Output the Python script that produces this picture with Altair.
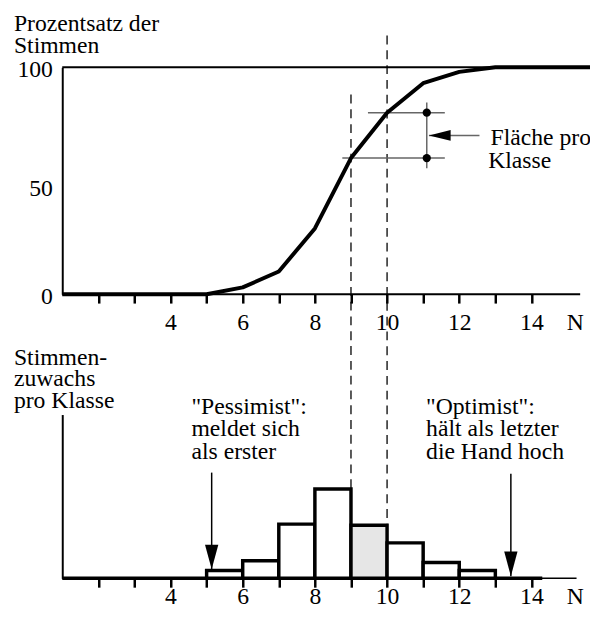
import altair as alt
import pandas as pd

FONT = "Liberation Serif"
FS = 24

# ---------------- data ----------------
# top panel: cumulative percentage of votes
cum_n = [1, 2, 3, 4, 5, 6, 7, 8, 9, 10, 11, 12, 13, 14, 15, 15.65]
cum_pct = [0, 0, 0, 0, 0, 3, 10, 29, 60, 80, 93, 98, 100, 100, 100, 100]

# bottom panel: increase of votes per class
bin_lo = [5, 6, 7, 8, 9, 10, 11, 12]
bin_hi = [6, 7, 8, 9, 10, 11, 12, 13]
bin_inc = [2.6, 5.9, 18.2, 30.0, 17.8, 11.9, 5.3, 2.6]
bin_fill = ["white", "white", "white", "white", "#e6e6e6", "white", "white", "white"]

tick_values = [2, 3, 4, 5, 6, 7, 8, 9, 10, 11, 12, 13, 14]
n_label_pos = 15.2
y_top_ticks = [0, 50, 100]

# annotations
guide_n = [9, 10]                 # dashed guides
guide_top = [88, 114]             # upper end (top panel units)
guide_bar = [30.0, 17.8]          # lower end: bar top (bottom panel units)

flaeche_y = [60, 80]
flaeche_x1 = [8.76, 9.47]
flaeche_x2 = [11.6, 11.6]
flaeche_vx = 11.1
flaeche_vy = [55.5, 84.5]
flaeche_arrow_x = [11.16, 12.56]
flaeche_arrow_y = 70
flaeche_line1 = "Fläche pro"
flaeche_line1_pos = (15.65, 65.7)   # right end of the first line
flaeche_line2 = "Klasse"
flaeche_line2_pos = (12.8, 55.7)

arrow_n = [5.14, 13.43]
arrow_top = [35.5, 35.1]
arrow_tip = [3.0, 0.7]
note_text = ['"Pessimist":\nmeldet sich\nals erster', '"Optimist":\nhält als letzter\ndie Hand hoch']
note_n = [4.58, 11.08]
note_y = [55.3, 55.3]

# ---------------- layout ----------------
X_DOMAIN = [1, 15.65]
TOP_DOMAIN = [0, 100]
BOT_DOMAIN = [0, 55]
W, HT, HB, SP = 536, 230, 166, 122
TITLE_X = -49.5

# lower ends of the dashed guides expressed in the top-panel scale
guide_bottom = [-(SP + HB * (1 - v / BOT_DOMAIN[1])) / (HT / TOP_DOMAIN[1]) for v in guide_bar]

xs = alt.Scale(domain=X_DOMAIN, nice=False, zero=False)
yts = alt.Scale(domain=TOP_DOMAIN, nice=False, zero=False)
ybs = alt.Scale(domain=BOT_DOMAIN, nice=False, zero=False)


def make_x_axis(pad):
    return alt.Axis(
        values=tick_values + [n_label_pos],
        labelExpr="datum.value > 14.5 ? 'N' : ((datum.value % 2 == 0 && datum.value >= 4) ? datum.label : '')",
        domain=False, grid=False, ticks=True, tickSize=9, tickWidth=2.5, tickColor="black",
        tickOpacity={"condition": {"test": "datum.value > 14.5", "value": 0}, "value": 1},
        labelPadding=pad, labelOverlap=False, labelFlush=False, title=None,
    )


xt_axis = make_x_axis(8)
xb_axis = make_x_axis(-2)

yt_axis = alt.Axis(
    values=y_top_ticks, ticks=False, grid=False, domain=True, domainColor="black", domainWidth=2,
    labelPadding=10,
    labelOffset={"condition": {"test": "datum.value == 50", "value": 8}, "value": 2},
    title=["Prozentsatz der", "Stimmen"], titleAngle=0, titleAlign="left",
    titleBaseline="alphabetic", titleX=TITLE_X, titleY=-37, titleLineHeight=22,
)
yb_axis = alt.Axis(
    values=[], ticks=False, labels=False, grid=False, domain=True, domainColor="black", domainWidth=2,
    title=["Stimmen-", "zuwachs", "pro Klasse"], titleAngle=0, titleAlign="left",
    titleBaseline="alphabetic", titleX=TITLE_X, titleY=-51, titleLineHeight=22,
)


def XT(f):
    return alt.X(f, type="quantitative", scale=xs, axis=xt_axis)


def XB(f):
    return alt.X(f, type="quantitative", scale=xs, axis=xb_axis)


def YT(f):
    return alt.Y(f, type="quantitative", scale=yts, axis=yt_axis)


def YB(f):
    return alt.Y(f, type="quantitative", scale=ybs, axis=yb_axis)


# ---------------- top panel ----------------
df_cum = pd.DataFrame({"n": cum_n, "p": cum_pct})
df_hund = pd.DataFrame({"x1": [X_DOMAIN[0]], "x2": [X_DOMAIN[1]], "y": [100]})
df_axis = pd.DataFrame({"x1": [X_DOMAIN[0]], "x2": [15.35], "y": [0]})
df_guide = pd.DataFrame({"n": guide_n, "y1": guide_top, "y2": guide_bottom})
df_fh = pd.DataFrame({"x1": flaeche_x1, "x2": flaeche_x2, "y": flaeche_y})
df_fv = pd.DataFrame({"x": [flaeche_vx], "y1": [flaeche_vy[0]], "y2": [flaeche_vy[1]]})
df_dots = pd.DataFrame({"x": [flaeche_vx, flaeche_vx], "y": flaeche_y})
df_fa = pd.DataFrame({"x1": [flaeche_arrow_x[0]], "x2": [flaeche_arrow_x[1]], "y": [flaeche_arrow_y]})
df_fhead = pd.DataFrame({"x": [flaeche_arrow_x[0]], "y": [flaeche_arrow_y]})
df_ft1 = pd.DataFrame({"x": [flaeche_line1_pos[0]], "y": [flaeche_line1_pos[1]], "t": [flaeche_line1]})
df_ft2 = pd.DataFrame({"x": [flaeche_line2_pos[0]], "y": [flaeche_line2_pos[1]], "t": [flaeche_line2]})

hund = alt.Chart(df_hund).mark_rule(color="black", strokeWidth=2).encode(
    x=XT("x1"), x2="x2", y=YT("y"))
xline_t = alt.Chart(df_axis).mark_rule(color="black", strokeWidth=2).encode(
    x=XT("x1"), x2="x2", y=YT("y"))
guides = alt.Chart(df_guide).mark_rule(color="black", strokeWidth=1.3, strokeDash=[9, 6]).encode(
    x=XT("n"), y=YT("y1"), y2="y2")
fh = alt.Chart(df_fh).mark_rule(color="#666666", strokeWidth=1.5).encode(
    x=XT("x1"), x2="x2", y=YT("y"))
fv = alt.Chart(df_fv).mark_rule(color="#666666", strokeWidth=1.5).encode(
    x=XT("x"), y=YT("y1"), y2="y2")
dots = alt.Chart(df_dots).mark_point(filled=True, color="black", size=70, opacity=1).encode(
    x=XT("x"), y=YT("y"))
fa = alt.Chart(df_fa).mark_rule(color="#666666", strokeWidth=1.5).encode(
    x=XT("x1"), x2="x2", y=YT("y"))
fhead = alt.Chart(df_fhead).mark_point(
    shape="M0,0L1,-0.25L1,0.25Z", size=1936, filled=True, color="black", opacity=1
).encode(x=XT("x"), y=YT("y"))
ft1 = alt.Chart(df_ft1).mark_text(
    font=FONT, fontSize=FS, align="right", baseline="alphabetic", color="black"
).encode(x=XT("x"), y=YT("y"), text="t")
ft2 = alt.Chart(df_ft2).mark_text(
    font=FONT, fontSize=FS, align="left", baseline="alphabetic", color="black"
).encode(x=XT("x"), y=YT("y"), text="t")
curve = alt.Chart(df_cum).mark_line(color="black", strokeWidth=4, strokeJoin="round").encode(
    x=XT("n"), y=YT("p"))

top = alt.layer(hund, xline_t, guides, fh, fv, fa, fhead, dots, curve, ft1, ft2).properties(width=W, height=HT)

# ---------------- bottom panel ----------------
df_bins = pd.DataFrame({"lo": bin_lo, "hi": bin_hi, "v": bin_inc, "fill": bin_fill})
df_axis_b = pd.DataFrame({"x1": [X_DOMAIN[0]], "x2": [15.25], "y": [0]})
df_base = pd.DataFrame({"x1": [X_DOMAIN[0]], "x2": [14.3], "y": [0]})
df_arrows = pd.DataFrame({"n": arrow_n, "top": arrow_top, "tip": arrow_tip})
df_notes = pd.DataFrame({"n": note_n, "y": note_y, "t": note_text})

xline_b = alt.Chart(df_axis_b).mark_rule(color="black", strokeWidth=1.5).encode(
    x=XB("x1"), x2="x2", y=YB("y"))
base = alt.Chart(df_base).mark_rule(color="black", strokeWidth=3.5).encode(
    x=XB("x1"), x2="x2", y=YB("y"))
bars = alt.Chart(df_bins).mark_rect(stroke="black", strokeWidth=3.5, strokeJoin="miter").encode(
    x=XB("lo"), x2="hi", y=YB("v"), y2=alt.datum(0),
    fill=alt.Fill("fill:N", scale=None))
arr_lines = alt.Chart(df_arrows).mark_rule(color="black", strokeWidth=1.5).encode(
    x=XB("n"), y=YB("top"), y2="tip")
arr_heads = alt.Chart(df_arrows).mark_point(
    shape="M0,0L-0.27,-1L0.27,-1Z", size=2500, filled=True, color="black", opacity=1
).encode(x=XB("n"), y=YB("tip"))
notes = alt.Chart(df_notes).mark_text(
    font=FONT, fontSize=FS, align="left", baseline="alphabetic", lineBreak="\n", lineHeight=23, color="black"
).encode(x=XB("n"), y=YB("y"), text="t")

bottom = alt.layer(xline_b, base, bars, arr_lines, arr_heads, notes).properties(width=W, height=HB)

chart = (
    alt.vconcat(top, bottom, spacing=SP, bounds="flush")
    .properties(padding={"left": 5, "top": 0, "right": -3, "bottom": -3}, background="white")
    .configure_view(stroke=None)
    .configure_axis(
        labelFont=FONT, titleFont=FONT, labelFontSize=FS, titleFontSize=FS,
        titleFontWeight="normal", labelColor="black", titleColor="black",
    )
)

chart.save("out.html", embed_options={"renderer": "svg", "actions": False})
